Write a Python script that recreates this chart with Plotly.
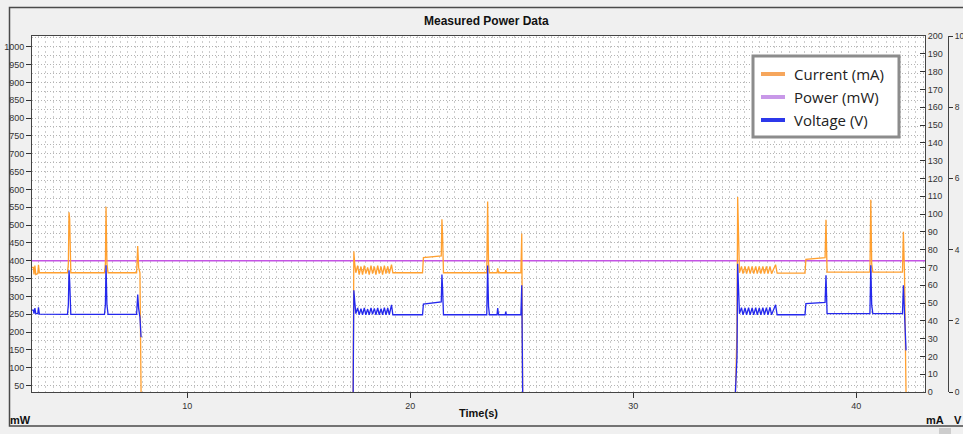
import plotly.graph_objects as go

# ---------------- data ----------------
time_s = [
    3.00, 3.10, 3.13, 3.17, 3.21, 3.30, 3.33, 3.37, 4.63, 4.67, 4.70, 4.73, 4.78,
    6.29, 6.33, 6.36, 6.40, 6.45, 7.73, 7.78, 7.82, 7.88, 7.93,
    None,
    17.44, 17.47, 17.51, 17.56,
    17.64, 17.71, 17.79, 17.86, 17.94, 18.01, 18.09, 18.16, 18.24, 18.31, 18.39,
    18.46, 18.54, 18.61, 18.69, 18.76, 18.84, 18.91, 18.99, 19.06, 19.16, 19.22,
    20.55, 20.59, 21.39, 21.42, 21.45, 21.49, 23.43, 23.47, 23.51, 23.55,
    23.89, 23.92, 23.96, 24.26, 24.28, 24.31, 24.96, 25.00, 25.04,
    None,
    34.58, 34.62, 34.65, 34.68, 34.72, 34.76,
    34.85, 34.92, 35.01, 35.08, 35.17, 35.24, 35.33, 35.40, 35.49, 35.56,
    35.65, 35.72, 35.81, 35.88, 35.97, 36.04, 36.13, 36.20, 36.38, 36.45,
    37.70, 37.74, 38.60, 38.64, 38.69, 40.61, 40.65, 40.69, 40.74,
    42.07, 42.11, 42.16, 42.23,
]
current_ma = [
    70, 70, 66, 71, 66, 66.5, 71.5, 67, 67, 72, 101, 97, 67,
    67, 72, 104, 72, 67, 67, 82, 70, 67, 0,
    None,
    0, 79, 72, 67,
    71, 66, 70.5, 66, 71, 66.5, 70, 66, 71, 66.5, 70.5,
    66, 71, 66.5, 70.5, 66, 71, 66.5, 70.5, 66.5, 71.5, 67,
    67, 75.5, 76.5, 97, 88, 67, 67, 107, 72, 67,
    67, 69.5, 67, 67, 68.5, 67, 67, 89, 0,
    None,
    0, 18, 35, 109.5, 73, 67,
    70.5, 66.5, 70.5, 66.5, 70.5, 66.5, 70.5, 66.5, 70.5, 66.5,
    70.5, 66.5, 70.5, 66.5, 70.5, 66.5, 70.5, 66.5, 71.5, 66.8,
    66.8, 74.5, 75.5, 96.8, 67.4, 67.4, 108, 72, 67.4,
    67.4, 90, 67, 0,
]
voltage_v = [
    2.30, 2.30, 2.20, 2.36, 2.20, 2.20, 2.38, 2.19, 2.18, 2.45, 3.42, 3.10, 2.18,
    2.18, 2.45, 3.56, 2.45, 2.18, 2.18, 2.74, 2.35, 2.10, 1.54,
    None,
    0, 2.86, 2.55, 2.20,
    2.36, 2.17, 2.34, 2.17, 2.36, 2.17, 2.33, 2.17, 2.36, 2.18, 2.35,
    2.17, 2.36, 2.17, 2.34, 2.17, 2.37, 2.17, 2.36, 2.17, 2.45, 2.17,
    2.17, 2.47, 2.53, 3.30, 2.90, 2.17, 2.17, 3.55, 2.40, 2.17,
    2.17, 2.36, 2.17, 2.17, 2.26, 2.17, 2.17, 3.00, 0,
    None,
    0, 0.55, 1.0, 3.6, 2.6, 2.2,
    2.37, 2.17, 2.36, 2.17, 2.37, 2.17, 2.36, 2.17, 2.37, 2.17,
    2.36, 2.17, 2.37, 2.17, 2.37, 2.17, 2.38, 2.17, 2.45, 2.17,
    2.17, 2.48, 2.52, 3.28, 2.20, 2.20, 3.56, 2.45, 2.20,
    2.20, 3.00, 2.05, 1.17,
]
power_time_s = [3.0, 43.2]
power_mw = [400, 400]

series_names = ["Current (mA)", "Power (mW)", "Voltage (V)"]
mw_ticks = list(range(50, 1001, 50))
ma_ticks = list(range(0, 201, 10))
v_ticks = [0, 2, 4, 6, 8, 10]
time_ticks = [10, 20, 30, 40]

# ---------------- styling ----------------
C_CUR = "rgb(255,160,48)"
C_POW = "rgb(196,84,228)"
C_VOL = "rgb(36,40,236)"
LEG_COLORS = ["rgb(246,166,92)", "rgb(200,152,232)", "rgb(44,56,234)"]

W, H = 963, 434
L, R, T, B = 32, 5, 36, 42


def px(X):
    return (X - L) / (W - L - R)


def py(Y):
    return (H - B - Y) / (H - T - B)


TICKFONT = dict(family="Liberation Sans, Arial", size=9, color="#333333")
GRID_H = dict(gridcolor="#b4b4b4", griddash="1px,2px", gridwidth=1)
GRID_V = dict(gridcolor="#cccccc", griddash="2px,3px", gridwidth=1)

fig = go.Figure()
fig.add_trace(go.Scatter(x=power_time_s, y=power_mw, mode="lines", name=series_names[1],
                         line=dict(color=C_POW, width=1.5), yaxis="y", showlegend=False))
fig.add_trace(go.Scatter(x=time_s, y=current_ma, mode="lines", name=series_names[0],
                         line=dict(color=C_CUR, width=1.3), yaxis="y2", showlegend=False))
fig.add_trace(go.Scatter(x=time_s, y=voltage_v, mode="lines", name=series_names[2],
                         line=dict(color=C_VOL, width=1.3), yaxis="y3", showlegend=False))

shapes = []
annotations = []

# outer frame + scrollbar thumb
shapes.append(dict(type="rect", xref="paper", yref="paper", x0=px(9.5), x1=px(990),
                   y0=py(7.5), y1=py(426), line=dict(color="#4a4a4a", width=1.5),
                   fillcolor="rgba(0,0,0,0)", layer="below"))
shapes.append(dict(type="rect", xref="paper", yref="paper", x0=px(939), x1=px(951),
                   y0=py(428), y1=py(436), line=dict(width=0), fillcolor="#cdcdcd"))

# legend box
shapes.append(dict(type="rect", xref="paper", yref="paper", x0=px(753), x1=px(899),
                   y0=py(56), y1=py(137), line=dict(color="#8c8c8c", width=3),
                   fillcolor="white"))
leg_y = [74, 97, 120]
for name, col, yy in zip(series_names, LEG_COLORS, leg_y):
    shapes.append(dict(type="line", xref="paper", yref="paper", x0=px(761), x1=px(785),
                       y0=py(yy), y1=py(yy), line=dict(color=col, width=4)))
    annotations.append(dict(x=px(792), y=py(yy), xref="paper", yref="paper", text=name,
                            showarrow=False, xanchor="left", yanchor="middle",
                            font=dict(family="Open Sans", size=15, color="#222222")))

# title, axis titles, units
annotations.append(dict(x=px(486), y=py(21), xref="paper", yref="paper",
                        text="<b>Measured Power Data</b>", showarrow=False,
                        xanchor="center", yanchor="middle",
                        font=dict(family="Liberation Sans, Arial", size=12, color="#111111")))
annotations.append(dict(x=px(478), y=py(413), xref="paper", yref="paper",
                        text="<b>Time(s)</b>", showarrow=False, xanchor="center", yanchor="middle",
                        font=dict(family="Liberation Sans, Arial", size=11, color="#111111")))
for txt, xx in [("mW", 20), ("mA", 934.5), ("V", 958.5)]:
    annotations.append(dict(x=px(xx), y=py(420), xref="paper", yref="paper",
                            text="<b>%s</b>" % txt, showarrow=False, xanchor="center",
                            yanchor="middle",
                            font=dict(family="Liberation Sans, Arial", size=11, color="#111111")))

fig.update_layout(
    width=W, height=H,
    margin=dict(l=L, r=R, t=T, b=B, pad=0, autoexpand=False),
    paper_bgcolor="#f0f0f0",
    plot_bgcolor="white",
    showlegend=False,
    xaxis=dict(domain=[0, px(925)], range=[3.04, 43.08], tickvals=time_ticks,
               ticks="outside", ticklen=5, tickcolor="#333", tickfont=TICKFONT,
               showline=True, linecolor="#444", linewidth=1, mirror=True,
               showgrid=True, zeroline=False, automargin=False,
               minor=dict(dtick=1 / 3, tick0=10, showgrid=True, ticks="", **GRID_V),
               **GRID_V),
    yaxis=dict(range=[31.9, 1030], tickvals=mw_ticks, ticks="outside", ticklen=5,
               tickcolor="#333", tickfont=TICKFONT, showline=True, linecolor="#444",
               linewidth=1, showgrid=True, zeroline=False, automargin=False,
               minor=dict(dtick=25, tick0=0, showgrid=True, ticks="", **GRID_H),
               **GRID_H),
    yaxis2=dict(range=[0, 200], tickvals=ma_ticks, overlaying="y", side="right",
                anchor="x", ticks="inside", ticklen=5, tickcolor="#333",
                tickfont=TICKFONT, showline=True, linecolor="#444", linewidth=1,
                showgrid=False, zeroline=False, automargin=False),
    yaxis3=dict(range=[0, 10], tickvals=v_ticks, overlaying="y", side="right",
                anchor="free", position=px(948), ticks="outside", ticklen=4,
                tickcolor="#333", tickfont=dict(family="Liberation Sans, Arial", size=8.5,
                                                color="#333333"),
                ticklabelstandoff=0,
                showline=True, linecolor="#444", linewidth=1,
                showgrid=False, zeroline=False, automargin=False),
    shapes=shapes,
    annotations=annotations,
)

fig.write_html("out.html")
